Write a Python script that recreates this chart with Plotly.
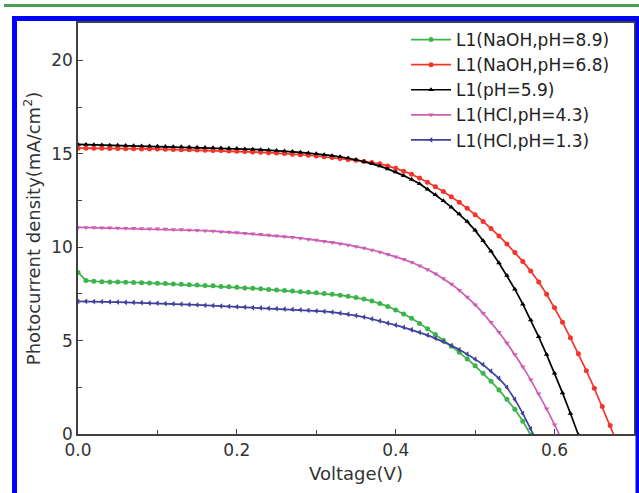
import plotly.graph_objects as go

voltage = [0.00, 0.01, 0.02, 0.03, 0.04, 0.05, 0.06, 0.07, 0.08, 0.09,
           0.10, 0.11, 0.12, 0.13, 0.14, 0.15, 0.16, 0.17, 0.18, 0.19,
           0.20, 0.21, 0.22, 0.23, 0.24, 0.25, 0.26, 0.27, 0.28, 0.29,
           0.30, 0.31, 0.32, 0.33, 0.34, 0.35, 0.36, 0.37, 0.38, 0.39,
           0.40, 0.41, 0.42, 0.43, 0.44, 0.45, 0.46, 0.47, 0.48, 0.49,
           0.50, 0.51, 0.52, 0.53, 0.54, 0.55, 0.56, 0.57, 0.58, 0.59,
           0.60, 0.61, 0.62, 0.63, 0.64, 0.65, 0.66, 0.67, 0.68]

naoh_89 = [8.65, 8.22, 8.17, 8.15, 8.14, 8.13, 8.12, 8.11, 8.10, 8.08,
           8.07, 8.05, 8.03, 8.01, 7.99, 7.97, 7.95, 7.93, 7.90, 7.88,
           7.85, 7.82, 7.80, 7.77, 7.74, 7.71, 7.68, 7.65, 7.62, 7.59,
           7.56, 7.52, 7.48, 7.43, 7.37, 7.30, 7.22, 7.12, 6.99, 6.83,
           6.64, 6.43, 6.19, 5.92, 5.63, 5.33, 5.02, 4.70, 4.37, 4.02,
           3.65, 3.25, 2.82, 2.36, 1.86, 1.32, 0.68, -0.05]

naoh_68 = [15.30, 15.30, 15.29, 15.29, 15.28, 15.28, 15.27, 15.27, 15.26, 15.26,
           15.25, 15.24, 15.23, 15.22, 15.21, 15.20, 15.19, 15.18, 15.17, 15.15,
           15.14, 15.12, 15.10, 15.08, 15.06, 15.04, 15.01, 14.98, 14.95, 14.92,
           14.88, 14.84, 14.80, 14.75, 14.70, 14.65, 14.59, 14.53,
           14.46, 14.35, 14.22, 14.07, 13.90, 13.70, 13.48, 13.24, 12.98, 12.70,
           12.40, 12.08, 11.74, 11.38, 11.00, 10.60, 10.17, 9.72, 9.24, 8.72,
           8.14, 7.48, 6.76, 5.98, 5.15, 4.29, 3.39, 2.45, 1.47, 0.45, -0.60]

ph_59 = [15.50, 15.49, 15.48, 15.47, 15.46, 15.45, 15.44, 15.43, 15.42, 15.41,
         15.40, 15.39, 15.38, 15.37, 15.36, 15.35, 15.34, 15.32, 15.31, 15.29,
         15.28, 15.26, 15.24, 15.22, 15.20, 15.18, 15.15, 15.12, 15.08, 15.04,
         15.00, 14.95, 14.90, 14.84, 14.77, 14.68, 14.58, 14.47, 14.34, 14.19,
         14.02, 13.83, 13.62, 13.39, 13.10, 12.80, 12.48, 12.14, 11.77, 11.37,
         10.90, 10.35, 9.78, 9.15, 8.48, 7.75, 6.95, 6.10, 5.20, 4.25,
         3.25, 2.20, 1.10, -0.05]

hcl_43 = [11.06, 11.05, 11.05, 11.04, 11.04, 11.03, 11.02, 11.01, 11.00, 10.99,
          10.98, 10.97, 10.95, 10.94, 10.92, 10.90, 10.88, 10.86, 10.83, 10.81,
          10.78, 10.75, 10.72, 10.69, 10.65, 10.61, 10.57, 10.53, 10.48, 10.43,
          10.38, 10.32, 10.26, 10.19, 10.12, 10.04, 9.95, 9.85, 9.74, 9.62,
          9.49, 9.35, 9.19, 9.01, 8.81, 8.58, 8.32, 8.03, 7.70, 7.33,
          6.92, 6.47, 5.98, 5.45, 4.87, 4.25, 3.60, 2.90, 2.15, 1.35,
          0.50, -0.40]

hcl_13 = [7.10, 7.10, 7.09, 7.08, 7.07, 7.06, 7.05, 7.04, 7.03, 7.01,
          7.00, 6.98, 6.97, 6.95, 6.93, 6.91, 6.89, 6.87, 6.85, 6.83,
          6.81, 6.79, 6.77, 6.75, 6.73, 6.71, 6.69, 6.67, 6.65, 6.62,
          6.59, 6.56, 6.52, 6.47, 6.41, 6.34, 6.26, 6.16, 6.05, 5.94,
          5.83, 5.71, 5.58, 5.44, 5.29, 5.12, 4.94, 4.74, 4.52, 4.28,
          4.01, 3.71, 3.37, 2.98, 2.50, 1.85, 1.10, 0.28, -0.60]

series_names = ["L1(NaOH,pH=8.9)", "L1(NaOH,pH=6.8)", "L1(pH=5.9)",
                "L1(HCl,pH=4.3)", "L1(HCl,pH=1.3)"]
series_values = [naoh_89, naoh_68, ph_59, hcl_43, hcl_13]
colors = ["#3cb44b", "#f2352b", "#000000", "#cc5fb5", "#40409e"]
symbols = ["circle", "circle", "triangle-up", "triangle-down", "triangle-left"]

FONT = "DejaVu Sans, Arial, sans-serif"

fig = go.Figure()
for name, vals, col, sym in zip(series_names, series_values, colors, symbols):
    fig.add_trace(go.Scatter(
        x=voltage[:len(vals)], y=vals, name=name, mode="lines+markers",
        line=dict(color=col, width=1.7),
        marker=dict(symbol=sym, size=5, color=col),
    ))

# plot area in pixels: x 78..634, y 23..434
L, R, T, B = 78, 634, 23, 434
W, H = R - L, B - T

def px(x):
    return (x - L) / W

def py(y):
    return (B - y) / H

shapes = [
    dict(type="line", xref="paper", yref="paper", x0=px(4), x1=px(645),
         y0=py(5.5), y1=py(5.5), line=dict(color="#4a9e50", width=3)),
    dict(type="rect", xref="paper", yref="paper", x0=px(14.5), x1=px(638),
         y0=py(18.5), y1=py(560), line=dict(color="#0000ff", width=5)),
]

axis_common = dict(
    showline=True, linecolor="#404040", linewidth=1.5, mirror=True,
    ticks="inside", ticklen=5, tickwidth=1.3, tickcolor="#404040",
    showgrid=False, zeroline=False,
    tickfont=dict(family=FONT, size=17, color="#333333"),
)

fig.update_layout(
    width=639, height=493,
    margin=dict(l=L, r=639 - R, t=T, b=493 - B, autoexpand=False),
    paper_bgcolor="white", plot_bgcolor="white",
    font=dict(family=FONT, color="#333333"),
    xaxis=dict(range=[0, 0.7], dtick=0.2, tickformat=".1f",
               minor=dict(dtick=0.1, ticks="inside", ticklen=4, tickcolor="#404040"),
               title=dict(text="Voltage(V)", font=dict(family=FONT, size=18, color="#333333"), standoff=8),
               **axis_common),
    yaxis=dict(range=[0, 22], dtick=5,
               minor=dict(dtick=2.5, ticks="inside", ticklen=4, tickcolor="#404040"),
               title=dict(text="Photocurrent density(mA/cm<sup>2</sup>)",
                          font=dict(family=FONT, size=18, color="#333333"), standoff=6),
               **axis_common),
    legend=dict(x=px(406), y=py(22), xanchor="left", yanchor="top",
                bgcolor="rgba(0,0,0,0)", borderwidth=0,
                font=dict(family=FONT, size=17, color="#222222"),
                tracegroupgap=0, itemwidth=40),
    shapes=shapes,
    showlegend=True,
)

fig.write_html("out.html", config={"displayModeBar": False},
               post_script="document.body.style.margin='0';")
